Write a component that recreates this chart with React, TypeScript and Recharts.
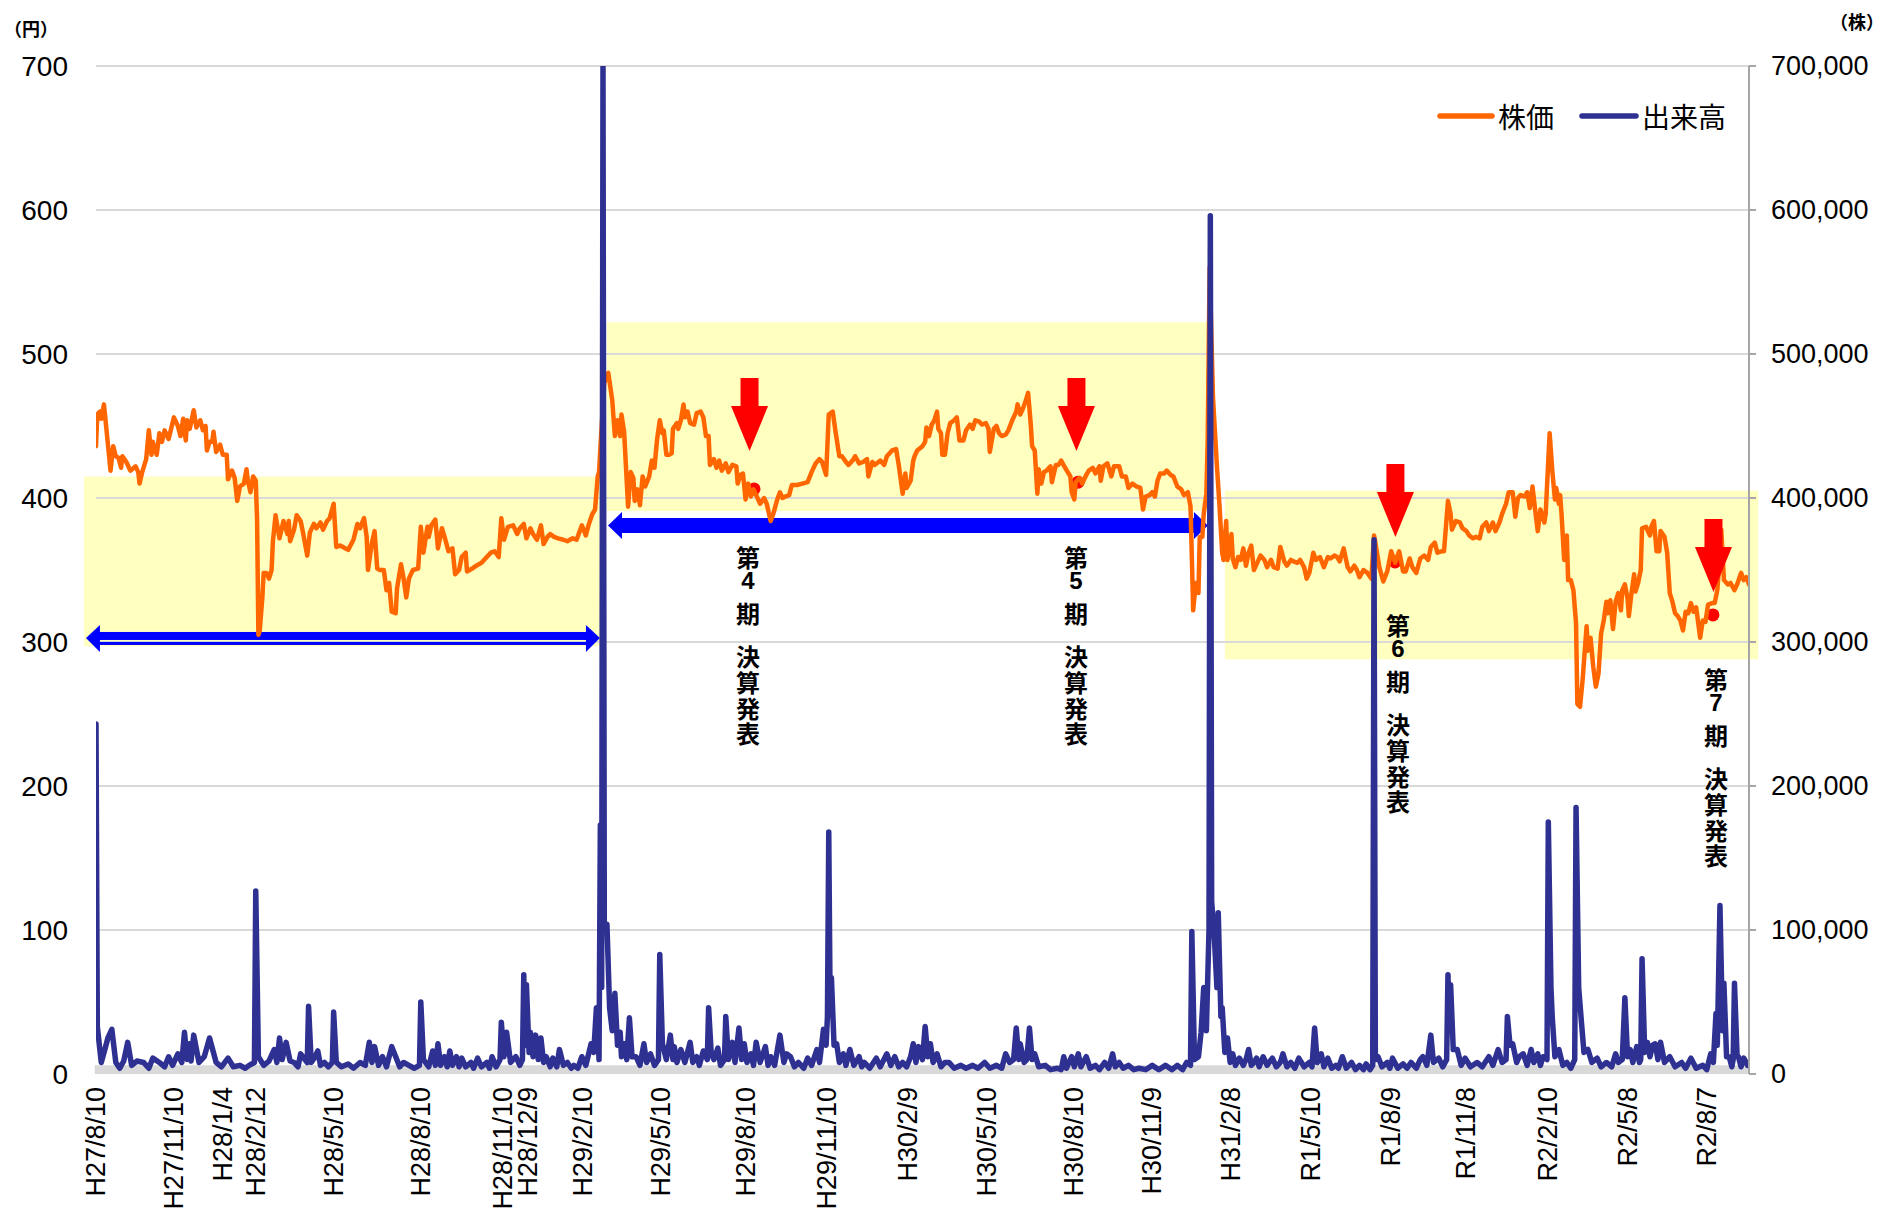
import React from 'react';
import { LineChart, Line, XAxis, YAxis, ReferenceArea, ReferenceLine, ReferenceDot, Legend } from 'recharts';

const LATIN = "'Liberation Sans', Arial, 'Noto Sans CJK JP', sans-serif";
const JP = "'Noto Sans CJK JP', 'Liberation Sans', sans-serif";

const ORANGE = '#FF6600';
const NAVY = '#2E3192';

// x = trading-day index from H27/8/10
const X_TICKS = [0, 59, 96, 121, 180, 246, 308, 327, 369, 428, 492, 554, 615, 675, 741, 800, 860, 920, 981, 1038, 1100, 1160, 1220];
const X_LABELS = ['H27/8/10', 'H27/11/10', 'H28/1/4', 'H28/2/12', 'H28/5/10', 'H28/8/10', 'H28/11/10', 'H28/12/9', 'H29/2/10', 'H29/5/10', 'H29/8/10', 'H29/11/10', 'H30/2/9', 'H30/5/10', 'H30/8/10', 'H30/11/9', 'H31/2/8', 'R1/5/10', 'R1/8/9', 'R1/11/8', 'R2/2/10', 'R2/5/8', 'R2/8/7'];
const PRICE_TICKS = [0, 100, 200, 300, 400, 500, 600, 700];
const VOLUME_TICKS = [0, 100000, 200000, 300000, 400000, 500000, 600000, 700000];

// [day, price(円)]
const PRICE: [number, number][] = [
[0,436],[1,458],[3,460],[4,455],[6,465],[7,456],[11,419],[13,436],[15,429],[17,428],[19,421],[20,429],[23,425],[26,419],[30,422],[32,418],[33,410],[35,418],[38,427],[40,447],[42,430],[43,439],[46,430],[48,445],[50,439],[52,447],[55,441],[59,456],[62,450],[64,443],[66,455],[68,440],[69,454],[71,448],[74,461],[76,449],[79,454],[81,447],[83,450],[84,433],[86,439],[88,439],[89,446],[91,432],[94,437],[96,430],[99,430],[100,413],[103,419],[105,414],[107,398],[109,408],[112,410],[114,420],[115,412],[117,404],[119,415],[121,412],[122,385],[123,305],[124,308],[126,331],[127,348],[129,348],[131,344],[133,350],[134,370],[136,388],[139,372],[142,384],[145,375],[146,384],[147,370],[150,378],[152,388],[155,384],[157,375],[160,360],[162,376],[165,382],[167,379],[170,383],[172,378],[175,384],[177,386],[180,396],[182,366],[185,367],[189,365],[191,364],[195,371],[198,382],[200,379],[203,386],[205,373],[206,350],[209,369],[211,377],[213,351],[215,350],[218,350],[220,336],[222,341],[224,321],[227,320],[228,337],[231,354],[233,344],[235,331],[237,344],[240,350],[244,351],[246,380],[248,362],[251,380],[252,373],[254,381],[257,385],[259,365],[262,379],[264,373],[267,363],[270,365],[272,347],[275,350],[277,359],[280,362],[281,349],[285,351],[288,353],[292,355],[296,359],[299,362],[302,363],[305,359],[307,386],[309,371],[312,380],[316,381],[319,375],[321,379],[324,382],[326,372],[329,379],[331,375],[334,371],[337,381],[339,368],[342,373],[344,375],[347,373],[350,372],[354,371],[357,370],[361,372],[364,371],[368,381],[371,374],[373,381],[376,389],[378,392],[380,415],[381,418],[383,450],[385,480],[388,487],[391,468],[393,443],[395,454],[397,443],[398,458],[400,446],[403,394],[405,418],[407,414],[408,398],[410,406],[412,395],[414,415],[416,408],[419,415],[421,426],[423,421],[425,441],[427,454],[429,445],[430,447],[432,430],[434,430],[436,431],[437,448],[440,452],[441,448],[443,454],[445,465],[446,456],[448,460],[450,452],[453,451],[455,459],[458,460],[460,456],[462,443],[464,443],[465,423],[468,427],[470,421],[472,426],[474,419],[477,424],[479,418],[482,423],[485,422],[486,410],[488,416],[490,417],[492,399],[494,410],[496,401],[498,406],[501,400],[503,396],[506,400],[508,396],[511,384],[513,389],[516,399],[518,404],[520,400],[522,401],[525,402],[527,409],[531,409],[535,410],[539,411],[542,418],[545,424],[548,427],[550,425],[553,416],[555,458],[558,460],[560,447],[563,429],[565,429],[568,425],[570,423],[573,426],[575,429],[578,424],[581,425],[584,427],[585,415],[588,425],[590,423],[594,426],[597,423],[599,429],[603,433],[606,434],[608,423],[611,403],[613,417],[614,407],[617,412],[619,426],[620,429],[622,433],[626,436],[628,439],[629,449],[631,443],[633,451],[635,454],[637,460],[638,448],[640,445],[641,430],[643,430],[645,445],[647,452],[650,454],[652,456],[654,440],[657,440],[659,447],[662,451],[664,448],[666,454],[669,453],[671,451],[674,452],[676,448],[677,432],[680,448],[682,450],[684,445],[686,443],[689,444],[691,447],[694,454],[697,460],[698,465],[700,458],[702,462],[704,467],[706,473],[708,451],[709,436],[711,433],[713,403],[714,420],[716,410],[718,418],[720,419],[723,422],[724,411],[727,423],[729,423],[731,426],[734,421],[736,418],[738,415],[739,404],[741,399],[742,411],[745,414],[747,410],[750,416],[752,419],[755,421],[757,417],[760,422],[761,412],[763,422],[766,424],[769,415],[771,422],[775,422],[777,415],[780,415],[782,407],[785,410],[788,408],[791,407],[793,392],[795,401],[798,402],[800,404],[802,401],[804,412],[806,417],[809,417],[811,419],[814,416],[816,415],[819,408],[822,406],[824,402],[827,404],[829,394],[830,359],[831,322],[833,341],[835,334],[836,373],[838,373],[839,389],[841,403],[842,440],[843.5,560],[846,470],[849,422],[851,394],[853,362],[854,357],[856,384],[857,357],[860,375],[861,358],[863,352],[865,359],[867,357],[869,365],[871,353],[873,362],[875,367],[877,350],[880,356],[882,360],[885,357],[887,352],[890,357],[892,352],[895,351],[897,366],[900,356],[902,353],[905,357],[907,356],[910,355],[912,357],[915,352],[917,344],[919,348],[922,362],[924,357],[927,359],[930,352],[933,359],[935,358],[938,360],[940,359],[942,356],[945,365],[948,352],[950,349],[953,353],[955,350],[957,345],[960,350],[963,348],[966,344],[968,374],[969,369],[972,352],[975,342],[978,349],[981,363],[984,355],[987,363],[990,349],[992,349],[995,358],[997,352],[1000,348],[1003,358],[1006,360],[1009,357],[1011,366],[1014,369],[1016,362],[1019,363],[1021,363],[1024,398],[1026,389],[1027,378],[1030,384],[1033,383],[1035,379],[1038,377],[1040,374],[1043,372],[1045,373],[1048,372],[1050,380],[1053,383],[1055,377],[1058,383],[1060,377],[1063,383],[1065,389],[1068,396],[1070,404],[1073,404],[1075,387],[1077,400],[1079,402],[1082,401],[1084,404],[1086,393],[1088,408],[1090,392],[1092,377],[1094,392],[1097,383],[1098,389],[1101,445],[1103,419],[1105,399],[1106,407],[1108,396],[1109,402],[1110,389],[1112,357],[1114,374],[1115,343],[1117,343],[1119,336],[1121,313],[1122,257],[1124,255],[1126,274],[1129,311],[1130,294],[1132,303],[1134,283],[1136,269],[1138,278],[1140,306],[1142,315],[1144,328],[1145,320],[1147,329],[1149,309],[1151,328],[1153,334],[1155,322],[1156,336],[1158,340],[1160,330],[1161,318],[1163,334],[1165,347],[1166,335],[1168,341],[1170,350],[1171,379],[1174,380],[1177,374],[1178,380],[1180,384],[1182,363],[1184,363],[1185,377],[1188,373],[1190,362],[1192,334],[1194,328],[1196,320],[1198,318],[1200,315],[1202,308],[1204,321],[1206,320],[1208,327],[1210,321],[1212,324],[1215,303],[1217,315],[1219,314],[1221,326],[1224,327],[1226,327],[1228,336],[1229,348],[1231,378],[1233,343],[1236,340],[1238,341],[1241,336],[1243,340],[1246,348],[1248,343],[1250,345],[1252,340]
];

// [day, volume(株)]
const VOLUME: [number, number][] = [
[0,243000],[1,33000],[4,8000],[7,18000],[9,25000],[12,31000],[15,8000],[18,4000],[21,9000],[24,22000],[27,6000],[31,9000],[36,8000],[40,4000],[43,11000],[48,8000],[52,5000],[55,12000],[58,6000],[62,14000],[65,8000],[67,29000],[69,10000],[71,21000],[72,9000],[74,27000],[78,8000],[82,12000],[86,25000],[91,8000],[95,5000],[100,11000],[104,5000],[109,6000],[113,4000],[116,6000],[120,8000],[121,127000],[123,12000],[127,6000],[131,9000],[135,17000],[137,8000],[139,25000],[141,10000],[144,22000],[147,9000],[150,8000],[153,5000],[155,14000],[160,8000],[161,47000],[163,8000],[166,12000],[168,16000],[170,6000],[173,8000],[176,5000],[179,8000],[180,43000],[182,8000],[186,5000],[191,7000],[195,4000],[200,8000],[204,6000],[207,22000],[209,8000],[211,19000],[214,6000],[217,12000],[220,5000],[224,19000],[227,12000],[230,5000],[233,8000],[237,6000],[241,4000],[245,6000],[246,50000],[248,10000],[252,5000],[255,16000],[257,6000],[259,21000],[261,6000],[264,12000],[266,5000],[268,16000],[270,6000],[273,12000],[275,5000],[277,11000],[280,5000],[284,8000],[286,4000],[289,11000],[292,5000],[296,8000],[298,4000],[300,12000],[303,5000],[306,10000],[307,36000],[309,12000],[311,29000],[314,8000],[318,12000],[321,6000],[323,10000],[324,69000],[325,20000],[326,62000],[328,15000],[329,29000],[331,12000],[333,27000],[335,10000],[337,25000],[339,8000],[341,12000],[344,5000],[346,11000],[349,5000],[351,17000],[354,6000],[357,8000],[360,4000],[362,6000],[365,4000],[368,12000],[371,6000],[375,21000],[377,15000],[379,46000],[381,10000],[382,173000],[383,60000],[384,700000],[385,100000],[387,104000],[389,46000],[391,30000],[393,56000],[395,20000],[397,29000],[398,12000],[400,21000],[402,10000],[404,39000],[406,12000],[409,12000],[412,6000],[415,21000],[417,8000],[420,14000],[423,6000],[426,10000],[427,83000],[429,21000],[432,10000],[435,27000],[437,10000],[438,19000],[440,8000],[443,17000],[446,8000],[450,22000],[452,8000],[455,12000],[457,6000],[460,16000],[463,10000],[464,46000],[466,14000],[468,10000],[471,18000],[473,6000],[476,10000],[477,40000],[479,10000],[482,22000],[484,8000],[487,32000],[489,10000],[491,21000],[493,8000],[496,14000],[498,6000],[500,22000],[503,8000],[507,19000],[509,6000],[511,12000],[514,6000],[518,27000],[521,8000],[523,14000],[526,12000],[529,5000],[532,8000],[536,4000],[539,11000],[542,6000],[546,17000],[548,8000],[551,31000],[553,20000],[554,40000],[555,168000],[556,50000],[557,67000],[559,20000],[561,21000],[563,8000],[566,14000],[568,6000],[571,17000],[574,6000],[578,12000],[580,5000],[582,8000],[586,4000],[591,11000],[594,5000],[599,14000],[602,6000],[605,12000],[608,5000],[611,8000],[614,5000],[617,12000],[619,21000],[621,8000],[623,19000],[626,10000],[628,33000],[630,12000],[632,21000],[634,8000],[637,14000],[640,5000],[643,8000],[646,8000],[650,4000],[655,6000],[659,4000],[664,6000],[668,4000],[673,8000],[677,4000],[682,6000],[686,4000],[689,14000],[692,8000],[695,10000],[697,32000],[699,10000],[700,21000],[703,8000],[705,10000],[707,32000],[709,10000],[711,14000],[714,5000],[719,6000],[723,3000],[728,4000],[731,3000],[733,12000],[735,4000],[739,12000],[741,5000],[744,14000],[746,5000],[750,12000],[753,4000],[757,6000],[760,3000],[764,8000],[767,4000],[770,14000],[772,5000],[775,8000],[778,4000],[782,6000],[786,3000],[790,4000],[795,3000],[800,6000],[805,3000],[810,6000],[815,3000],[819,6000],[823,3000],[826,8000],[829,6000],[830,99000],[832,10000],[835,12000],[837,29000],[839,60000],[841,30000],[843,100000],[844,596000],[845,120000],[847,96000],[849,60000],[850,112000],[852,40000],[853,46000],[855,15000],[857,25000],[859,8000],[861,14000],[863,6000],[866,11000],[869,6000],[871,10000],[873,17000],[875,6000],[877,8000],[879,11000],[881,5000],[884,12000],[887,6000],[891,11000],[894,5000],[897,8000],[899,14000],[902,5000],[905,8000],[908,4000],[911,11000],[915,5000],[919,8000],[921,5000],[923,32000],[925,8000],[928,14000],[930,5000],[933,11000],[936,4000],[939,6000],[941,4000],[944,12000],[947,4000],[951,8000],[954,3000],[957,6000],[960,3000],[962,7000],[965,3000],[967,6000],[968,371000],[969,10000],[971,12000],[974,5000],[978,8000],[980,4000],[982,11000],[986,4000],[990,7000],[993,4000],[996,8000],[1000,4000],[1003,10000],[1005,12000],[1008,6000],[1011,27000],[1013,8000],[1017,11000],[1020,5000],[1023,10000],[1024,69000],[1025,30000],[1026,62000],[1028,17000],[1031,17000],[1034,6000],[1037,11000],[1041,5000],[1046,8000],[1050,5000],[1055,12000],[1058,6000],[1062,17000],[1065,8000],[1068,10000],[1069,40000],[1071,20000],[1073,21000],[1076,8000],[1078,12000],[1081,14000],[1084,6000],[1087,17000],[1089,8000],[1092,14000],[1094,6000],[1096,12000],[1099,10000],[1100,175000],[1102,60000],[1103,39000],[1105,12000],[1108,17000],[1111,6000],[1114,8000],[1117,4000],[1120,10000],[1121,185000],[1123,60000],[1125,37000],[1127,15000],[1130,17000],[1133,8000],[1137,11000],[1140,5000],[1144,8000],[1148,5000],[1151,14000],[1153,8000],[1156,10000],[1158,53000],[1160,12000],[1162,17000],[1164,8000],[1167,19000],[1169,8000],[1170,10000],[1171,80000],[1173,15000],[1175,22000],[1177,12000],[1179,20000],[1181,21000],[1183,10000],[1185,22000],[1188,8000],[1192,12000],[1196,5000],[1201,8000],[1204,4000],[1208,11000],[1212,4000],[1217,6000],[1220,3000],[1223,14000],[1225,8000],[1227,42000],[1228,20000],[1230,117000],[1232,30000],[1233,63000],[1235,12000],[1237,12000],[1239,5000],[1240,10000],[1241,63000],[1243,12000],[1244,12000],[1246,5000],[1248,11000],[1251,6000],[1252,7000]
];

const priceData = PRICE.map(([t, p]) => ({ t, p }));
const volumeData = VOLUME.map(([t, v]) => ({ t, v }));

// annotation anchors (data coordinates)
const YELLOW_BOXES = [
  { x1: -9, x2: 381.7, y1: 297, y2: 415 },
  { x1: 387, x2: 842.2, y1: 391, y2: 522 },
  { x1: 855, x2: 1259, y1: 288, y2: 405 },
];
const PERIOD_ARROWS = [
  { x1: -7.6, x2: 381.7, y: 302.8, kind: 'double' },
  { x1: 387.8, x2: 842.2, y: 380.9, kind: 'thick' },
];
const RED_ARROWS = [
  { x: 495, y: 432.6 },
  { x: 742.6, y: 432.6 },
  { x: 984.2, y: 372.9 },
  { x: 1225.1, y: 334.7 },
];
const RED_DOTS = [
  { x: 498.4, y: 406.3 },
  { x: 743.8, y: 411 },
  { x: 983.9, y: 355.6 },
  { x: 1224.7, y: 318.8 },
];
const NOTES = [
  { x: 493.8, y: 359.5, n: '4' },
  { x: 742.3, y: 359.5, n: '5' },
  { x: 986.1, y: 312.5, n: '6' },
  { x: 1227, y: 275, n: '7' },
];
const NOTE_OFFSETS = [0, 24, 56, 99, 125, 151, 176];

const XTick = (props: any) => {
  const { x, y, payload } = props;
  const i = X_TICKS.indexOf(payload.value);
  const label = i >= 0 ? X_LABELS[i] : '';
  return (
    <text x={x} y={y} transform={`rotate(-90 ${x} ${y})`} textAnchor="end" dominantBaseline="central"
      fontSize={27} fill="#000" fontFamily={LATIN}>{label}</text>
  );
};
const LeftTick = (props: any) => {
  const { x, y, payload } = props;
  return <text x={x} y={y} textAnchor="end" dominantBaseline="central" fontSize={28} fill="#000" fontFamily={LATIN}>{payload.value}</text>;
};
const RightTick = (props: any) => {
  const { x, y, payload } = props;
  return <text x={x} y={y} textAnchor="start" dominantBaseline="central" fontSize={27} fill="#000" fontFamily={LATIN}>{Number(payload.value).toLocaleString('en-US')}</text>;
};

const PeriodArrow = (props: any) => {
  const { x1, x2, y1, kind } = props;
  const y = y1;
  const blue = '#0000FF';
  if (kind === 'double') {
    return (
      <g>
        <rect x={x1 + 12} y={y - 6} width={x2 - x1 - 24} height={8} fill={blue} />
        <rect x={x1 + 12} y={y + 4} width={x2 - x1 - 24} height={3} fill={blue} />
        <polygon points={`${x1},${y} ${x1 + 14},${y - 13} ${x1 + 14},${y + 14}`} fill={blue} />
        <polygon points={`${x2},${y} ${x2 - 14},${y - 13} ${x2 - 14},${y + 14}`} fill={blue} />
      </g>
    );
  }
  return (
    <g>
      <rect x={x1 + 13} y={y - 7.5} width={x2 - x1 - 26} height={15} fill={blue} />
      <polygon points={`${x1},${y} ${x1 + 14},${y - 13.5} ${x1 + 14},${y + 13.5}`} fill={blue} />
      <polygon points={`${x2},${y} ${x2 - 14},${y - 13.5} ${x2 - 14},${y + 13.5}`} fill={blue} />
    </g>
  );
};

const DownArrow = (props: any) => {
  const { cx, cy } = props;
  const pts = [
    [cx - 9, cy - 73], [cx + 9, cy - 73], [cx + 9, cy - 45], [cx + 18.5, cy - 45],
    [cx, cy], [cx - 18.5, cy - 45], [cx - 9, cy - 45],
  ].map((p) => p.join(',')).join(' ');
  return <polygon points={pts} fill="#FF0000" />;
};

const NoteText = (props: any) => {
  const { cx, cy, n } = props;
  const chars = ['第', n, '期', '決', '算', '発', '表'];
  return (
    <text textAnchor="middle" dominantBaseline="central" fontSize={24} fontWeight="bold" fill="#000" fontFamily={JP}>
      {chars.map((c: string, i: number) => (
        <tspan key={i} x={cx} y={cy + NOTE_OFFSETS[i]} fontFamily={i === 1 ? LATIN : JP}>{c}</tspan>
      ))}
    </text>
  );
};

const LegendContent = () => (
  <svg width={310} height={40} style={{ display: 'block' }}>
    <line x1={4} y1={20} x2={56} y2={20} stroke={ORANGE} strokeWidth={5.5} strokeLinecap="round" />
    <text x={62} y={20} dominantBaseline="central" fontSize={28} fontFamily={JP} fill="#000">株価</text>
    <line x1={146} y1={20} x2={200} y2={20} stroke={NAVY} strokeWidth={5.5} strokeLinecap="round" />
    <text x={206} y={20} dominantBaseline="central" fontSize={28} fontFamily={JP} fill="#000">出来高</text>
  </svg>
);

export default function App() {
  return (
    <div style={{ position: 'absolute', left: 0, top: 0, width: 1881, height: 1213, background: '#fff' }}>
      <LineChart width={1881} height={1213} margin={{ top: 66, right: 12, bottom: 14, left: 16 }}>
        <XAxis type="number" dataKey="t" domain={[0, 1252]} ticks={X_TICKS} interval={0} allowDataOverflow
          axisLine={false} tickLine={false} tickSize={0} tickMargin={13} height={125} tick={<XTick />} />
        <YAxis yAxisId="left" domain={[0, 700]} ticks={PRICE_TICKS} width={80} allowDataOverflow
          axisLine={false} tickLine={false} tickSize={0} tickMargin={28} tick={<LeftTick />} />
        <YAxis yAxisId="right" orientation="right" domain={[0, 700000]} ticks={VOLUME_TICKS} width={120} allowDataOverflow
          axisLine={{ stroke: '#a6a6a6', strokeWidth: 2 }} tickLine={{ stroke: '#a6a6a6', strokeWidth: 2 }}
          tickSize={7} tickMargin={15} tick={<RightTick />} />

        <ReferenceArea yAxisId="left" x1={-1} x2={1252} y1={0} y2={6} fill="#d9d9d9" fillOpacity={1} stroke="none" ifOverflow="visible" zIndex={10} />
        {YELLOW_BOXES.map((b, i) => (
          <ReferenceArea key={'yb' + i} yAxisId="left" x1={b.x1} x2={b.x2} y1={b.y1} y2={b.y2}
            fill="#FFFFC0" fillOpacity={1} stroke="none" ifOverflow="visible" zIndex={11} />
        ))}
        {PRICE_TICKS.filter((v) => v > 0).map((v) => (
          <ReferenceLine key={'g' + v} yAxisId="left" y={v} stroke="#d9d9d9" strokeWidth={2} zIndex={20} />
        ))}
        {PERIOD_ARROWS.map((a, i) => (
          <ReferenceLine key={'pa' + i} yAxisId="left" ifOverflow="visible" zIndex={30}
            segment={[{ x: a.x1, y: a.y }, { x: a.x2, y: a.y }]}
            shape={(p: any) => <PeriodArrow {...p} kind={a.kind} />} />
        ))}
        {RED_DOTS.map((d, i) => (
          <ReferenceDot key={'rd' + i} yAxisId="left" x={d.x} y={d.y} r={6.5} fill="#FF0000" stroke="none" zIndex={390} />
        ))}

        <Line yAxisId="left" data={priceData} dataKey="p" stroke={ORANGE} strokeWidth={4.5} dot={false} activeDot={false}
          isAnimationActive={false} strokeLinejoin="round" strokeLinecap="round" zIndex={400} />
        <Line yAxisId="right" data={volumeData} dataKey="v" stroke={NAVY} strokeWidth={5.5} dot={false} activeDot={false}
          isAnimationActive={false} strokeLinejoin="round" strokeLinecap="round" zIndex={401} />

        {RED_ARROWS.map((a, i) => (
          <ReferenceDot key={'ra' + i} yAxisId="left" x={a.x} y={a.y} r={1} zIndex={600}
            shape={(p: any) => <DownArrow {...p} />} />
        ))}
        {NOTES.map((n, i) => (
          <ReferenceDot key={'nt' + i} yAxisId="left" x={n.x} y={n.y} r={1} zIndex={600}
            shape={(p: any) => <NoteText {...p} n={n.n} />} />
        ))}

        <Legend layout="horizontal" verticalAlign="middle" align="center"
          wrapperStyle={{ position: 'absolute', top: 96, left: 1436, width: 310, height: 40 }}
          content={() => <LegendContent />} />
      </LineChart>
      <div style={{ position: 'absolute', left: 1, top: 16, width: 60, lineHeight: '24px', textAlign: 'center', fontSize: 18, fontWeight: 'bold', fontFamily: JP }}>（円）</div>
      <div style={{ position: 'absolute', left: 1827, top: 9, width: 60, lineHeight: '24px', textAlign: 'center', fontSize: 18, fontWeight: 'bold', fontFamily: JP }}>（株）</div>
    </div>
  );
}
